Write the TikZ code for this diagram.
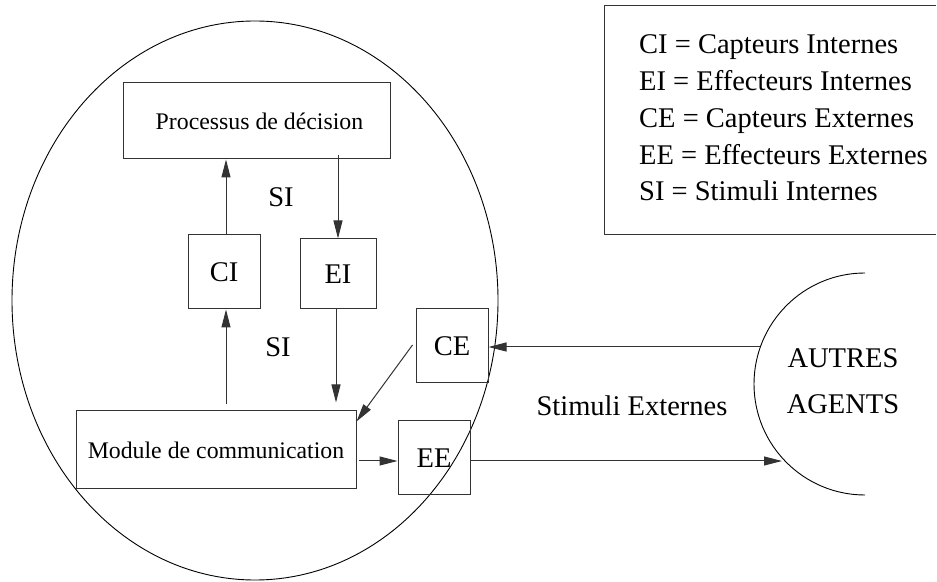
\documentclass[tikz,border=0pt]{standalone}
\usepackage{fontspec}
\setmainfont{Liberation Serif}
\usetikzlibrary{arrows.meta,calc}
\begin{document}
\begin{tikzpicture}[x=1pt,y=1pt,
  boxstyle/.style={draw=black!80,line width=1pt,rectangle,inner sep=0pt},
  bigtxt/.style={font=\fontsize{28.5}{36.75}\selectfont},
  agtxt/.style={font=\fontsize{28.5}{46}\selectfont},
  smalltxt/.style={font=\fontsize{23.8}{28}\selectfont},
  arr/.style={-{Triangle[length=18pt,width=9pt]},line width=1pt,draw=black!80},
  plain/.style={line width=1pt,draw=black!80}]
\useasboundingbox (0,0) rectangle (937,581);
% outer agent ellipse
\draw[line width=0.9pt] (255,280.5) ellipse [x radius=243pt, y radius=279.5pt];
% boxes
\node[boxstyle,smalltxt,minimum width=267pt,minimum height=76pt] (proc) at (256.5,460) {\hspace*{6pt}Processus de décision};
\node[boxstyle,bigtxt,minimum width=72pt,minimum height=74pt] (ci) at (224,309) {CI};
\node[boxstyle,bigtxt,minimum width=76pt,minimum height=70pt] (ei) at (338,307) {EI};
\node[boxstyle,bigtxt,minimum width=72pt,minimum height=74pt] (ce) at (452,235) {CE};
\node[boxstyle,smalltxt,minimum width=280pt,minimum height=78pt] (mod) at (216,131) {Module de communication};
\node[boxstyle,bigtxt,minimum width=72pt,minimum height=74pt] (ee) at (434,123) {EE};
% labels
\node[bigtxt,inner sep=0pt] (si1) at (281,384) {SI};
\node[bigtxt,inner sep=0pt] (si2) at (278,234) {SI};
\node[bigtxt,inner sep=0pt] (stim) at (632,175) {Stimuli Externes};
% other agents
\draw[line width=0.9pt] (865,308) arc[start angle=90,end angle=270,radius=111pt];
\node[agtxt,align=center,inner sep=0pt] (agents) at (843,200) {AUTRES\\AGENTS};
\coordinate (agIn) at (782,120);
\coordinate (agOut) at (760,234);
% legend
\draw[plain] (936,575) -- (604,575) -- (604,346) -- (936,346);
\node[bigtxt,align=left,anchor=west,inner sep=0pt] (legend) at (639,463)
  {CI = Capteurs Internes\\EI = Effecteurs Internes\\CE = Capteurs Externes\\EE = Effecteurs Externes\\SI = Stimuli Internes};
% connectors
\draw[arr] (ci.north -| 226,0) -- (proc.south -| 226,0);
\draw[arr] ([yshift=4pt]proc.south -| ei.north) -- (ei.north);
\draw[arr] ([yshift=6pt]mod.north -| 226,0) -- (ci.south -| 226,0);
\draw[arr] (ei.south -| 336,0) -- ([yshift=8pt]mod.north -| 336,0);
\draw[arr] ([xshift=-3pt,yshift=1pt]ce.west) -- ([yshift=-11pt]mod.north east);
\coordinate (eein) at ([yshift=-3pt]ee.west);
\draw[arr] ([xshift=2pt]eein -| mod.east) -- (eein);
\draw[arr] (eein -| ee.east) -- (agIn);
\draw[arr] (agOut) -- (agOut -| ce.east);
\end{tikzpicture}
\end{document}
